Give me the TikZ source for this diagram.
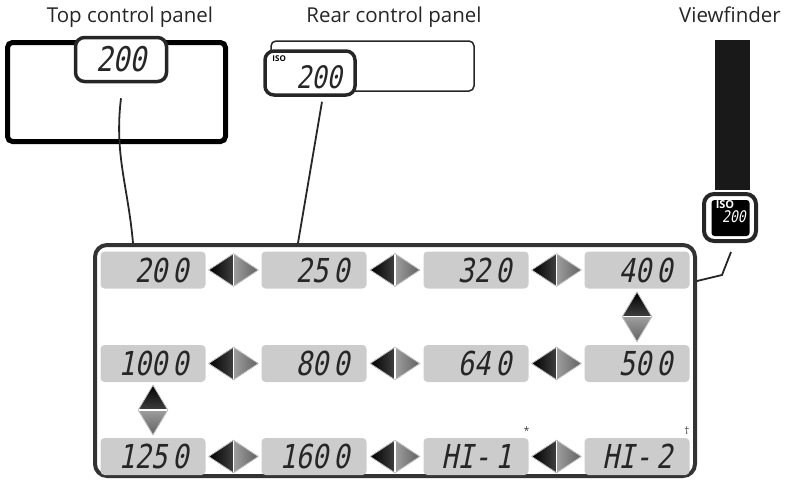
\documentclass[tikz,border=0pt]{standalone}
\usepackage{fontspec}
\setmainfont{Open Sans}
\newfontfamily\lcdfont{DejaVu Sans Mono}[FakeStretch=0.82,FakeSlant=0.2]
\usetikzlibrary{shapes.geometric}
\newcommand{\seg}[2]{\mbox{#1\kern5pt#2}}

\begin{document}
\begin{tikzpicture}[x=1pt, y=-1pt,
  title/.style={font=\fontsize{20.5}{24}\selectfont, text=black!85, inner sep=0pt, anchor=base},
  window/.style={draw=black!85, line width=3.5pt, fill=white, rounded corners=9pt},
  lcd/.style={fill=black!20, rounded corners=4pt, minimum width=105pt, minimum height=37pt,
    inner xsep=17pt, inner ysep=0pt, text width=71pt, align=right, text=black!85,
    font=\lcdfont\fontsize{33}{33}\selectfont},
  isotag/.style={font=\bfseries\fontsize{8}{8}\selectfont, inner sep=0pt},
  fnote/.style={font=\fontsize{10}{10}\selectfont, text=black!80, inner sep=1pt},
  leader/.style={draw=black!85, line width=1.8pt},
  hdia/.style={diamond, draw=black!22, line width=0.8pt, inner sep=0pt, minimum width=50pt, minimum height=33pt,
    path picture={
      \fill[left color=black, right color=black!50] (path picture bounding box.west) -- (path picture bounding box.north) -- (path picture bounding box.south) -- cycle;
      \fill[left color=black!38, right color=black!62] (path picture bounding box.east) -- (path picture bounding box.north) -- (path picture bounding box.south) -- cycle;
      \draw[white, line width=1.2pt] (path picture bounding box.north) -- (path picture bounding box.south);
    }},
  vdia/.style={diamond, draw=black!22, line width=0.8pt, inner sep=0pt, minimum width=30pt, minimum height=50pt,
    path picture={
      \fill[top color=black, bottom color=black!50] (path picture bounding box.north) -- (path picture bounding box.west) -- (path picture bounding box.east) -- cycle;
      \fill[top color=black!38, bottom color=black!62] (path picture bounding box.south) -- (path picture bounding box.west) -- (path picture bounding box.east) -- cycle;
      \draw[white, line width=1.2pt] (path picture bounding box.west) -- (path picture bounding box.east);
    }}
]
\useasboundingbox (0,0) rectangle (785,482);

\node[title] (ttop) at (130,22) {Top control panel};
\node[title] (trear) at (394,22) {Rear control panel};
\node[title] (tvf) at (730,22) {Viewfinder};

\node[draw=black, line width=5pt, rounded corners=5pt, minimum width=218pt, minimum height=99pt] (toppanel) at (116.5,92) {};
\node[window, minimum width=91pt, minimum height=44pt, font=\lcdfont\fontsize{34}{34}\selectfont, text=black!85] (topwin) at (121,59.5) {200};

\node[draw=black!85, line width=1.5pt, rounded corners=5pt, minimum width=203pt, minimum height=50pt] (rearpanel) at (372.5,66) {};
\node[window, minimum width=90pt, minimum height=44pt] (rearwin) at (310,73) {};
\node[isotag, anchor=north west] (reariso) at ([shift={(9pt,-6pt)}]rearwin.north west) {ISO};
\node[font=\lcdfont\fontsize{31}{31}\selectfont, text=black!85, inner sep=0pt] (rearval) at (319,77) {200};

\node[fill=black!90, minimum width=35pt, minimum height=150pt, inner sep=0pt] (vfbar) at (732.5,115) {};
\node[window, line width=4pt, rounded corners=10pt, minimum width=52pt, minimum height=47pt] (vfwin) at (730,217.5) {};
\node[fill=black, rounded corners=3pt, minimum width=38pt, minimum height=36pt, inner sep=0pt] (vfscreen) at (730.5,218) {};
\node[isotag, font=\bfseries\fontsize{11}{11}\selectfont, text=white] (vfiso) at (725,205) {ISO};
\node[font=\lcdfont\fontsize{16}{16}\selectfont, text=white, inner sep=0pt] (vfval) at (734,217) {200};

\node[draw=black!80, line width=4pt, rounded corners=12pt, minimum width=600pt, minimum height=231pt] (grid) at (395,360.5) {};

\node[lcd] (d200) at (153,270) {\seg{20}{0}};
\node[lcd] (d250) at (314,270) {\seg{25}{0}};
\node[lcd] (d320) at (476,270) {\seg{32}{0}};
\node[lcd] (d400) at (637,270) {\seg{40}{0}};
\node[lcd] (d1000) at (153,363.5) {\seg{100}{0}};
\node[lcd] (d800) at (314,363.5) {\seg{80}{0}};
\node[lcd] (d640) at (476,363.5) {\seg{64}{0}};
\node[lcd] (d500) at (637,363.5) {\seg{50}{0}};
\node[lcd] (d1250) at (153,456.5) {\seg{125}{0}};
\node[lcd] (d1600) at (314,456.5) {\seg{160}{0}};
\node[lcd] (dhi1) at (476,456.5) {\seg{HI-}{1}};
\node[lcd] (dhi2) at (637,456.5) {\seg{HI-}{2}};

\path (d200) -- node[hdia] (a1) {} (d250);
\path (d250) -- node[hdia] (a2) {} (d320);
\path (d320) -- node[hdia] (a3) {} (d400);
\path (d400) -- node[vdia] (a4) {} (d500);
\path (d1000) -- node[hdia] (a5) {} (d800);
\path (d800) -- node[hdia] (a6) {} (d640);
\path (d640) -- node[hdia] (a7) {} (d500);
\path (d1000) -- node[vdia] (a8) {} (d1250);
\path (d1250) -- node[hdia] (a9) {} (d1600);
\path (d1600) -- node[hdia] (a10) {} (dhi1);
\path (dhi1) -- node[hdia] (a11) {} (dhi2);

\node[fnote, anchor=south east] (star) at ([shift={(2pt,2pt)}]dhi1.north east) {*};
\node[fnote, anchor=south east] (dagger) at ([shift={(1pt,2pt)}]dhi2.north east) {†};

\coordinate (topfree) at ([yshift=-15pt]topwin.south);
\coordinate (rearfree) at ([shift={(12pt,-5pt)}]rearwin.south);
\coordinate (vffree) at ([shift={(1pt,-9pt)}]vfwin.south);
\draw[leader] (topfree) to[out=-97, in=95] ([xshift=40pt]grid.north west);
\draw[leader] (rearfree) -- ([xshift=205pt]grid.north west);
\draw[leader] (vffree) -- ++(-9,23) -- ([yshift=-38pt]grid.north east);
\end{tikzpicture}
\end{document}
